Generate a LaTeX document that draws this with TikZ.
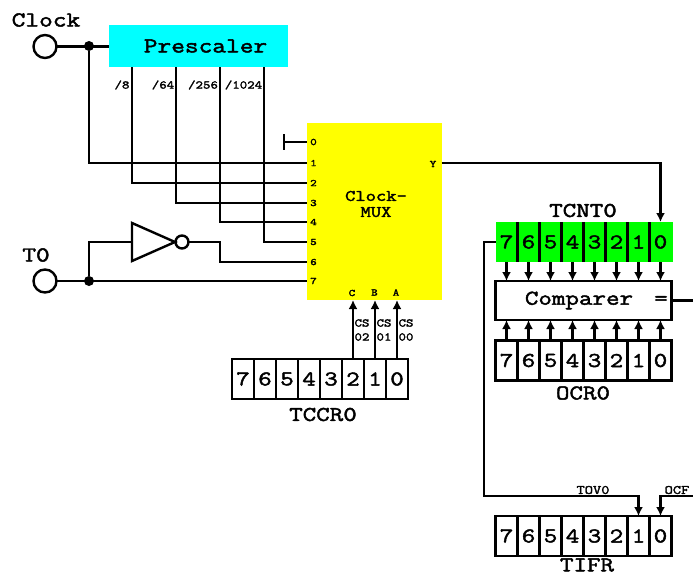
\documentclass[tikz,border=0pt]{standalone}
\usepackage{fontspec}
\newfontfamily\cour{Latin Modern Mono}[FakeBold=2.2,FakeStretch=1.25]
\usetikzlibrary{arrows.meta,calc}
\definecolor{cy}{RGB}{0,255,255}
\definecolor{yl}{RGB}{255,255,0}
\definecolor{gr}{RGB}{0,255,0}
\tikzset{
  wire/.style={line width=2.4pt,line cap=butt},
  arr/.style={wire,-{Latex[length=9pt,width=9pt]}},
  biglbl/.style={inner sep=0pt,font=\cour\fontsize{21.3}{25}\selectfont},
  midlbl/.style={inner sep=0pt,font=\cour\fontsize{16}{16}\selectfont,align=center},
  smalllbl/.style={inner sep=0pt,font=\cour\fontsize{11.6}{14}\selectfont,align=center},
  flaglbl/.style={inner sep=0pt,font=\cour\fontsize{12.8}{14}\selectfont},
  pinlbl/.style={inner sep=0pt,font=\cour\fontsize{10}{11}\selectfont},
  reglbl/.style={inner sep=0pt,font=\cour\fontsize{21}{24}\selectfont},
  cell/.style={draw,line width=2.4pt,minimum width=22pt,minimum height=40pt,inner sep=0pt,outer sep=0pt,font=\cour\fontsize{21}{24}\selectfont},
  gcell/.style={minimum width=22pt,minimum height=40pt,inner sep=0pt,outer sep=0pt,font=\cour\fontsize{21}{24}\selectfont},
  terminal/.style={draw,line width=2.4pt,circle,minimum size=23pt,inner sep=0pt,outer sep=0pt},
  dotn/.style={circle,fill=black,minimum size=10pt,inner sep=0pt,outer sep=0pt},
}
\begin{document}
\begin{tikzpicture}[x=1pt,y=-1pt]
\useasboundingbox (0,0) rectangle (693,573);
% Blocks
\node[fill=cy,minimum width=179pt,minimum height=42pt,inner sep=0pt,outer sep=0pt] (pre) at (198.5,46) {};
\node[biglbl] (pretext) at (205.5,46) {Prescaler};
\node[fill=yl,minimum width=135pt,minimum height=177pt,inner sep=0pt,outer sep=0pt] (mux) at (374.5,211.5) {};
\node[midlbl] (muxtext) at (376,204) {Clock-\\MUX};
% Terminals
\node[terminal] (clk) at (45,46.5) {};
\node[terminal] (t0) at (45,281) {};
\node[biglbl] (clklbl) at (46,20) {Clock};
\node[biglbl] (t0lbl) at (36,255) {T0};
\node[dotn] (j1) at (89,46) {};
\node[dotn] (j2) at (89,281) {};
% Prescaler labels
\node[smalllbl] (d8) at (122,85) {/8};
\node[smalllbl] (d64) at (163,85) {/64};
\node[smalllbl] (d256) at (203,85) {/256};
\node[smalllbl] (d1024) at (243.5,85) {/1024};
% Mux pins
\foreach \i/\y in {0/142,1/163,2/183,3/203,4/222,5/242,6/262,7/281}{
  \coordinate (p\i) at (307,\y);
  \node[pinlbl] (pl\i) at (313.5,\y) {\i};
}
\coordinate (bar0) at (284,142);
\draw[wire] (bar0) -- (p0);
\draw[wire] (284,134) -- (284,150);
\coordinate (muxy) at (441.5,163);
\node[pinlbl] (yl) at (433,164) {Y};
\node[pinlbl] (lc) at (352,293) {C};
\node[pinlbl] (lb) at (374.5,292.5) {B};
\node[pinlbl] (la) at (396,292.5) {A};
% Inverter
\coordinate (i1) at (132,223);
\coordinate (i2) at (132,261);
\coordinate (i3) at (175,242);
\draw[wire,line join=miter] (i1) -- (i3) -- (i2) -- cycle;
\node[draw,line width=2.4pt,circle,minimum size=13pt,inner sep=0pt,outer sep=0pt] (bub) at (182,242) {};
% Wires on the left
\draw[wire] (clk.east) -- (pre.west |- clk.east);
\draw[wire] (j1) |- (p1);
\foreach \x/\i/\n in {132/2/a,176/3/b,220/4/c,264/5/d}{
  \coordinate (tap\n) at (\x,67);
  \draw[wire] (tap\n) |- (p\i);
}
\draw[wire] (t0.east) -- (p7);
\draw[wire] (j2) |- (132,242);
\draw[wire] (bub.east) -- (220,242) |- (p6);
% Registers
\foreach \i [evaluate=\i as \xx using {232+11+22*(7-\i)}] in {7,...,0}{
  \node[cell] (tccr\i) at (\xx,379) {\i};
}
\foreach \i [evaluate=\i as \xx using {495.5+11+22*(7-\i)}] in {7,...,0}{
  \node[cell] (ocr\i) at (\xx,360.5) {\i};
  \node[cell] (tifr\i) at (\xx,536) {\i};
}
\node[fill=gr,minimum width=177pt,minimum height=40pt,inner sep=0pt,outer sep=0pt] (tcnt) at (584,242) {};
\foreach \i [evaluate=\i as \xx using {495.5+11+22*(7-\i)}] in {7,...,0}{
  \node[gcell] (tc\i) at (\xx,242) {\i};
}
\foreach \i in {7,...,1}{
  \draw[wire] (tc\i.north east) -- (tc\i.south east);
}
\node[draw,line width=2.4pt,minimum width=176pt,minimum height=39pt,inner sep=0pt,outer sep=0pt] (cmp) at (583.5,300.5) {};
\node[reglbl] (cmptext) at (579,300.5) {Comparer};
\node[reglbl] (cmpeq) at (661,300.5) {=};
\node[reglbl] (tcl) at (583,210.5) {TCNT0};
\node[reglbl] (ocl) at (583,393) {OCR0};
\node[reglbl] (tfl) at (587,565) {TIFR};
\node[reglbl] (tcc) at (323,414.5) {TCCR0};
% Register arrows
\foreach \i in {7,...,0}{
  \draw[arr] (tc\i.south) -- (tc\i.south |- cmp.north);
  \draw[arr] (ocr\i.north) -- (ocr\i.north |- cmp.south);
}
\draw[arr] (muxy) -| (tc0.north);
\draw[arr] (tccr2.north) -- (tccr2.north |- mux.south);
\draw[arr] (tccr1.north) -- (tccr1.north |- mux.south);
\draw[arr] (tccr0.north) -- (tccr0.north |- mux.south);
\node[smalllbl] (cs2) at (362,330) {CS\\02};
\node[smalllbl] (cs1) at (384,330) {CS\\01};
\node[smalllbl] (cs0) at (406,330) {CS\\00};
% Flag wires
\coordinate (cmpout) at (693,300.5);
\draw[wire] (cmp.east) -- (cmpout);
\coordinate (ocfin) at (693,496);
\draw[arr] (tcnt.west) -- (484,242) |- (tifr1.north |- 0,496) -- (tifr1.north);
\draw[arr] (ocfin) -| (tifr0.north);
\node[flaglbl] (tov) at (593,490) {TOV0};
\node[flaglbl] (ocf) at (677,490) {OCF};
\end{tikzpicture}
\end{document}
